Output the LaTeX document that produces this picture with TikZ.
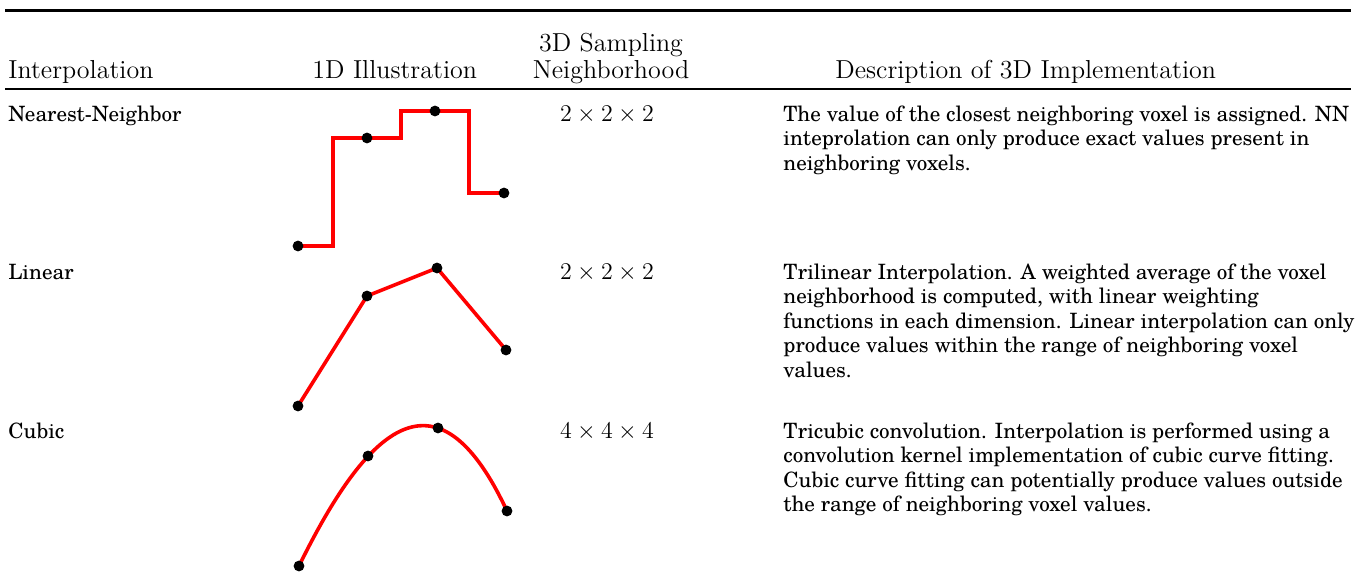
\documentclass[tikz,border=0pt]{standalone}
\usepackage{fontspec}
\setmainfont{TeX Gyre Schola}
\newfontfamily\headfont{Latin Modern Roman}
\begin{document}
\begin{tikzpicture}[x=0.5pt,y=-0.5pt,
  txt/.style={inner sep=0pt, anchor=base west, font=\fontsize{10.55}{12.5}\selectfont},
  head/.style={inner sep=0pt, anchor=base west, font=\headfont\fontsize{13}{15}\selectfont},
  chead/.style={head, anchor=base},
  size/.style={inner sep=0pt, anchor=base, font=\fontsize{13}{15}\selectfont},
  rule/.style={line width=1.5pt},
  curve/.style={red, line width=1.8pt},
  dot/.style={fill=black}]
\useasboundingbox (0,0) rectangle (1357,573);

% table rules
\coordinate (tl) at (5,10);   \coordinate (tr) at (1351,10);
\coordinate (ml) at (5,89);   \coordinate (mr) at (1351,89);
\draw[rule] (tl) -- (tr);
\draw[rule, line width=1.3pt] (ml) -- (mr);

% header
\node[head]  (h1)  at (8,78)    {Interpolation};
\node[head]  (h2)  at (312,78)  {1D Illustration};
\node[chead] (h3a) at (611,52)  {3D Sampling};
\node[chead] (h3b) at (611,78)  {Neighborhood};
\node[head]  (h4)  at (835,78)  {Description of 3D Implementation};

% method names
\node[txt] (m1) at (8,121) {Nearest-Neighbor};
\node[txt] (m2) at (8,279) {Linear};
\node[txt] (m3) at (8,438) {Cubic};

% neighbourhood sizes
\node[size] (s1) at (607,121) {$2\times2\times2$};
\node[size] (s2) at (607,279) {$2\times2\times2$};
\node[size] (s3) at (607,438) {$4\times4\times4$};

% descriptions
\foreach \t [count=\i] in {
  {The value of the closest neighboring voxel is assigned. NN},
  {inteprolation can only produce exact values present in},
  {neighboring voxels.}}
  \node[txt] (da\i) at (783,{121+24.5*(\i-1)}) {\t};
\foreach \t [count=\i] in {
  {Trilinear Interpolation. A weighted average of the voxel},
  {neighborhood is computed, with linear weighting},
  {functions in each dimension. Linear interpolation can only},
  {produce values within the range of neighboring voxel},
  {values.}}
  \node[txt] (db\i) at (783,{279+24.5*(\i-1)}) {\t};
\foreach \t [count=\i] in {
  {Tricubic convolution. Interpolation is performed using a},
  {convolution kernel implementation of cubic curve fitting.},
  {Cubic curve fitting can potentially produce values outside},
  {the range of neighboring voxel values.}}
  \node[txt] (dc\i) at (783,{438+24.5*(\i-1)}) {\t};

% nearest-neighbour staircase
\coordinate (n1) at (298,246);
\coordinate (n2) at (367,138);
\coordinate (n3) at (435,111);
\coordinate (n4) at (504,193);
\draw[curve] (n1) -- ++(35,0) |- (n2) -- ++(34,0) |- (n3) -- ++(34,0) |- (n4);

% linear polyline
\coordinate (l1) at (298,406);
\coordinate (l2) at (367,296);
\coordinate (l3) at (437,268);
\coordinate (l4) at (506,350);
\draw[curve, line join=round] (l1) -- (l2) -- (l3) -- (l4);

% cubic through the four samples
\coordinate (c1) at (299,566);
\coordinate (c2) at (368,456);
\coordinate (c3) at (438,428);
\coordinate (c4) at (507,511);
\draw[curve, domain=0:3, samples=80, variable=\s]
  plot ({299+69.33*\s}, {566-110*\s+41*\s*(\s-1)+29/6*\s*(\s-1)*(\s-2)});

% sample points
\foreach \p in {n1,n2,n3,n4,l1,l2,l3,l4,c1,c2,c3,c4}
  \fill[dot] (\p) circle[radius=2.7pt];
\end{tikzpicture}
\end{document}
